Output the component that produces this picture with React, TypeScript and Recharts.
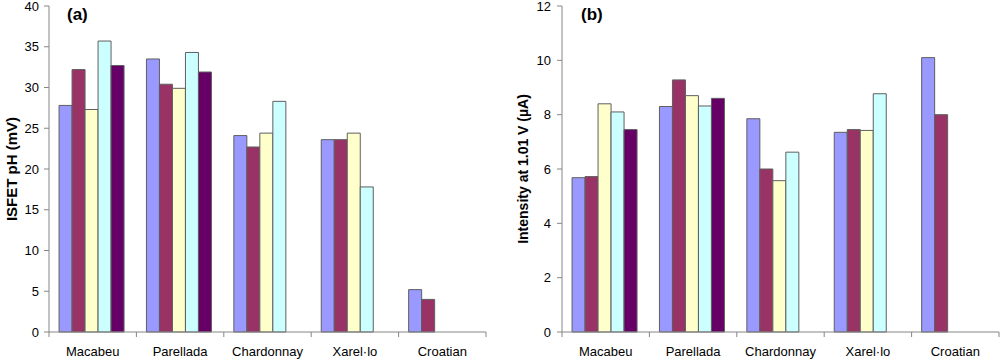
import React from 'react';
import { BarChart, Bar, XAxis, YAxis } from 'recharts';

const categories = ['Macabeu', 'Parellada', 'Chardonnay', 'Xarel·lo', 'Croatian'];

// (a) ISFET pH response, mV
const isfetS1 = [27.8, 33.5, 24.1, 23.6, 5.2];
const isfetS2 = [32.2, 30.4, 22.7, 23.6, 4.0];
const isfetS3 = [27.3, 29.9, 24.4, 24.4, null];
const isfetS4 = [35.7, 34.3, 28.3, 17.8, null];
const isfetS5 = [32.7, 31.9, null, null, null];
const isfetTicks = [0, 5, 10, 15, 20, 25, 30, 35, 40];

// (b) intensity at 1.01 V, uA
const intS1 = [5.68, 8.3, 7.85, 7.35, 10.1];
const intS2 = [5.72, 9.28, 6.0, 7.45, 8.0];
const intS3 = [8.4, 8.7, 5.57, 7.42, null];
const intS4 = [8.1, 8.32, 6.62, 8.77, null];
const intS5 = [7.45, 8.6, null, null, null];
const intTicks = [0, 2, 4, 6, 8, 10, 12];

const seriesKeys = ['s1', 's2', 's3', 's4', 's5'];
const colors = ['#9999FF', '#993366', '#FFFFCC', '#CCFFFF', '#660066'];

const buildRows = (cols: (number | null)[][]) =>
  categories.map((name, i) => {
    const row: any = { name };
    cols.forEach((c, j) => (row[seriesKeys[j]] = c[i]));
    return row;
  });

const isfetData = buildRows([isfetS1, isfetS2, isfetS3, isfetS4, isfetS5]);
const intData = buildRows([intS1, intS2, intS3, intS4, intS5]);

const FONT = '"Liberation Sans", Arial, sans-serif';
const AXIS = '#868686';

// category label centred, tick marks on the category boundaries (Excel style)
function CategoryTick(props: any) {
  const { x, y, payload, index, step, count } = props;
  return (
    <g>
      <line x1={x - step / 2} x2={x - step / 2} y1={y} y2={y + 5} stroke={AXIS} />
      {index === count - 1 && (
        <line x1={x + step / 2} x2={x + step / 2} y1={y} y2={y + 5} stroke={AXIS} />
      )}
      <text x={x} y={y + 24} textAnchor="middle" fontSize={13} fontFamily={FONT} fill="#000">
        {payload.value}
      </text>
    </g>
  );
}

function YTitle(props: any) {
  const { viewBox, value, cx, size } = props;
  const x = viewBox.x + cx;
  const y = viewBox.y + viewBox.height / 2;
  return (
    <text
      x={x}
      y={y}
      transform={`rotate(-90, ${x}, ${y})`}
      textAnchor="middle"
      dominantBaseline="central"
      fontSize={size}
      fontWeight="bold"
      fontFamily={FONT}
      fill="#000"
    >
      {value}
    </text>
  );
}

interface PanelProps {
  data: any[];
  ticks: number[];
  max: number;
  title: string;
  titleSize: number;
  tag: string;
  yWidth: number;
  tickGap: number;
  margin: { top: number; right: number; bottom: number; left: number };
  titleX: number;
  tagX: number;
}

function Panel({ data, ticks, max, title, titleSize, tag, yWidth, tickGap, margin, titleX, tagX }: PanelProps) {
  const width = 500;
  const height = 360;
  const plotW = width - margin.left - margin.right - yWidth;
  return (
    <div style={{ position: 'relative', width, height }}>
      <BarChart
        width={width}
        height={height}
        data={data}
        margin={margin}
        barGap={0}
        barCategoryGap="11.5%"
      >
        <XAxis
          dataKey="name"
          height={28}
          interval={0}
          tickSize={0}
          tickMargin={0}
          tickLine={false}
          axisLine={{ stroke: AXIS }}
          tick={<CategoryTick step={plotW / categories.length} count={categories.length} />}
        />
        <YAxis
          width={yWidth}
          domain={[0, max]}
          ticks={ticks}
          interval={0}
          tickSize={5}
          tickMargin={tickGap}
          axisLine={{ stroke: AXIS }}
          tickLine={{ stroke: AXIS }}
          tick={{ fontSize: 13, fontFamily: FONT, fill: '#000' }}
          label={{ content: <YTitle value={title} cx={titleX} size={titleSize} /> }}
        />
        {seriesKeys.map((k, i) => (
          <Bar
            key={k}
            dataKey={k}
            name={`Sample ${i + 1}`}
            fill={colors[i]}
            stroke="#5f5f5f"
            strokeWidth={1}
            isAnimationActive={false}
          />
        ))}
      </BarChart>
      <div
        style={{
          position: 'absolute',
          left: tagX,
          top: 5,
          fontFamily: FONT,
          fontWeight: 'bold',
          fontSize: 17,
          lineHeight: '20px',
        }}
      >
        {tag}
      </div>
    </div>
  );
}

export default function App() {
  return (
    <div
      style={{
        position: 'absolute',
        left: 0,
        top: 0,
        width: 1000,
        height: 360,
        background: '#fff',
        display: 'flex',
      }}
    >
      <Panel
        data={isfetData}
        ticks={isfetTicks}
        max={40}
        title="ISFET pH (mV)"
        titleSize={15}
        tag="(a)"
        yWidth={49}
        tickGap={5}
        margin={{ top: 6, right: 14, bottom: 0, left: 0 }}
        titleX={11}
        tagX={67}
      />
      <Panel
        data={intData}
        ticks={intTicks}
        max={12}
        title="Intensity at 1.01 V (µA)"
        titleSize={14}
        tag="(b)"
        yWidth={62}
        tickGap={6}
        margin={{ top: 6, right: 1, bottom: 0, left: 0 }}
        titleX={23}
        tagX={81}
      />
    </div>
  );
}
